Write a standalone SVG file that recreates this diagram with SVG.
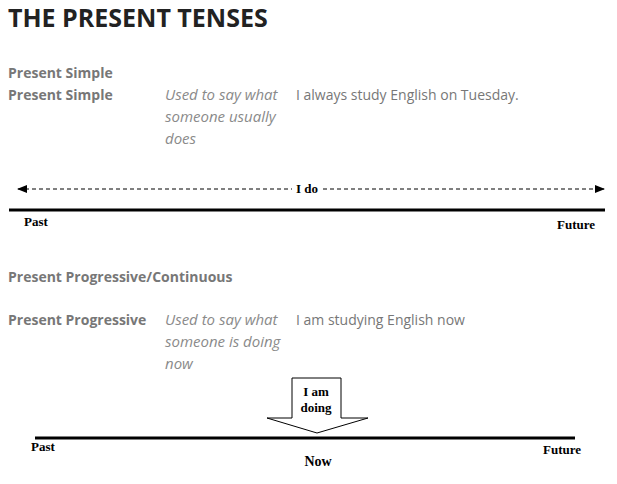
<svg xmlns="http://www.w3.org/2000/svg" width="617" height="484" viewBox="0 0 617 484">
<defs>
<style>
.title{font-family:"Open Sans","Liberation Sans",sans-serif;font-weight:700;font-size:25px;fill:#222}
.lbl{font-family:"Open Sans","Liberation Sans",sans-serif;font-weight:700;font-size:14px;fill:#777}
.it{font-family:"Open Sans","Liberation Sans",sans-serif;font-style:italic;font-size:15px;fill:#8a8a8a}
.tx{font-family:"Open Sans","Liberation Sans",sans-serif;font-size:14px;fill:#777}
.tm{font-family:"Liberation Serif","Times New Roman",serif;font-weight:700;font-size:13px;fill:#000}
.thick{stroke:#000;stroke-width:3}
.dash{stroke:#000;stroke-width:1;stroke-dasharray:4,3}
</style>
<marker id="ah" markerWidth="10" markerHeight="8" refX="9" refY="4" orient="auto-start-reverse" markerUnits="userSpaceOnUse">
<path d="M0,0 L10,4 L0,8 Z" fill="#000"/>
</marker>
</defs>
<rect width="617" height="484" fill="#fff"/>
<text class="title" x="8" y="27">THE PRESENT TENSES</text>

<g id="simple">
<text class="lbl" x="8" y="78">Present Simple</text>
<text class="lbl" x="8" y="100">Present Simple</text>
<text class="it" x="165" y="100">Used to say what</text>
<text class="it" x="165" y="122">someone usually</text>
<text class="it" x="165" y="144">does</text>
<text class="tx" x="296" y="100">I always study English on Tuesday.</text>
</g>

<g id="connectors">
<line class="dash" x1="18" y1="189" x2="292" y2="189" marker-start="url(#ah)"/>
<line class="dash" x1="323" y1="189" x2="604" y2="189" marker-end="url(#ah)"/>
<line class="thick" x1="9" y1="210" x2="605" y2="210"/>
<line class="thick" x1="35" y1="438" x2="575" y2="438"/>
</g>

<g id="timeline1">
<text class="tm" x="307" y="193" text-anchor="middle">I do</text>
<text class="tm" x="24" y="226">Past</text>
<text class="tm" x="557" y="229">Future</text>
</g>

<g id="progressive">
<text class="lbl" x="8" y="282">Present Progressive/Continuous</text>
<text class="lbl" x="8" y="325">Present Progressive</text>
<text class="it" x="165" y="325">Used to say what</text>
<text class="it" x="165" y="347">someone is doing</text>
<text class="it" x="165" y="369">now</text>
<text class="tx" x="296" y="325">I am studying English now</text>
</g>

<g id="now-arrow">
<path d="M292,378 L341,378 L341,418 L368,418 L317,433 L267,418 L292,418 Z" fill="#fff" stroke="#000" stroke-width="1"/>
<text class="tm" x="316" y="396" text-anchor="middle">I am</text>
<text class="tm" x="316" y="412" text-anchor="middle">doing</text>
</g>

<g id="timeline2">
<text class="tm" x="31" y="451">Past</text>
<text class="tm" x="543" y="454">Future</text>
<text class="tm" x="318" y="466" text-anchor="middle" style="font-size:14px">Now</text>
</g>
</svg>
